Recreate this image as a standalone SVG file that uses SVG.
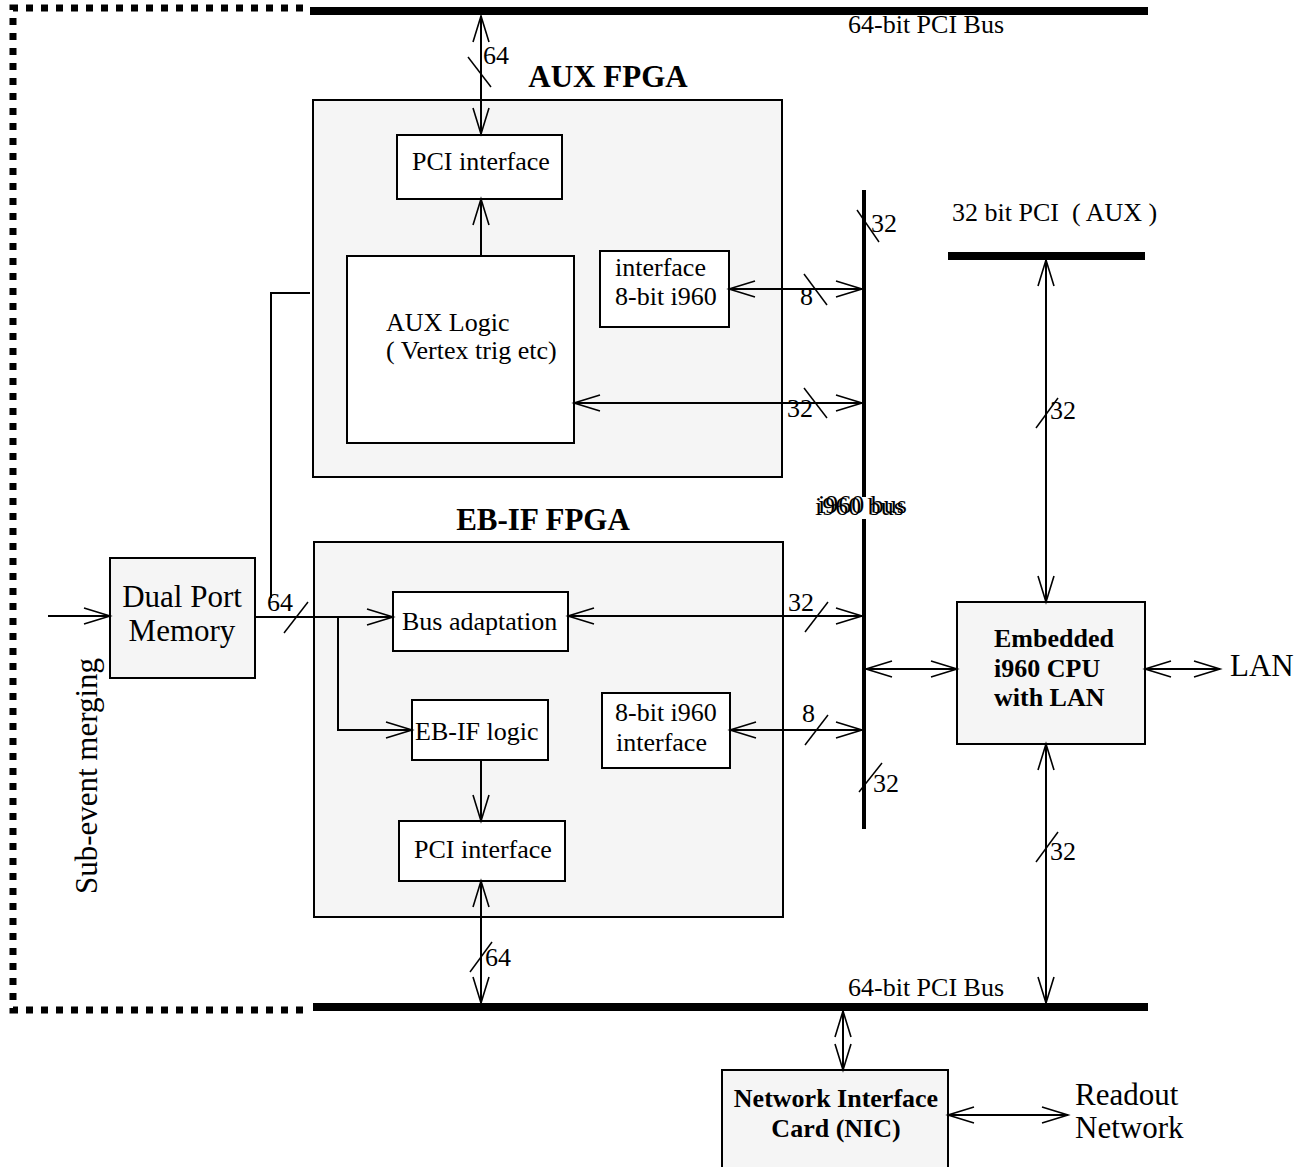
<svg xmlns="http://www.w3.org/2000/svg" width="1315" height="1167" viewBox="0 0 1315 1167">
<defs>
<marker id="ah" markerUnits="userSpaceOnUse" markerWidth="30" markerHeight="20" viewBox="0 0 30 20" refX="27" refY="9" orient="auto-start-reverse" overflow="visible">
<path d="M1,1 L27,9 L1,17" fill="none" stroke="#000" stroke-width="1.6"/>
</marker>
<style>
.t{font-family:"Liberation Serif","Times New Roman",serif;font-size:26px;fill:#000}
.b{font-weight:bold}
.big{font-size:31px}
.box{fill:#fff;stroke:#000;stroke-width:2}
.gbox{fill:#f5f5f5;stroke:#000;stroke-width:2}
.ln{stroke:#000;stroke-width:2;fill:none}
.a1{stroke:#000;stroke-width:2;fill:none;marker-end:url(#ah)}
.a2{stroke:#000;stroke-width:2;fill:none;marker-end:url(#ah);marker-start:url(#ah)}
.sl{stroke:#000;stroke-width:1.5}
.bus{stroke:#000;stroke-width:8}
.dash{stroke:#000;stroke-width:7;stroke-dasharray:7 8;fill:none}
</style>
</defs>
<rect width="1315" height="1167" fill="#fff"/>

<g id="border">
<path class="dash" d="M303,8 H13 V1010 H308"/>
</g>

<g id="buses">
<line class="bus" x1="310" y1="11" x2="1148" y2="11"/>
<text class="t" x="848" y="33">64-bit PCI Bus</text>
<line class="bus" x1="313" y1="1007" x2="1148" y2="1007"/>
<text class="t" x="848" y="996">64-bit PCI Bus</text>
<line class="bus" x1="948" y1="256" x2="1145" y2="256"/>
<text class="t" x="952" y="221" style="white-space:pre">32 bit PCI  ( AUX )</text>
<line x1="864" y1="190" x2="864" y2="497" stroke="#000" stroke-width="4"/>
<line x1="864" y1="519" x2="864" y2="829" stroke="#000" stroke-width="4"/>
<text class="t" x="815" y="515">i960 bus</text>
<text class="t" x="818" y="513">i960 bus</text>
</g>

<g id="aux-fpga">
<rect class="gbox" x="313" y="100" width="469" height="377"/>
<text class="t b big" x="608" y="87" text-anchor="middle">AUX FPGA</text>
</g>
<g id="aux-pci">
<rect class="box" x="397" y="135" width="165" height="64"/>
<text class="t" x="412" y="170">PCI interface</text>
</g>
<g id="aux-logic">
<rect class="box" x="347" y="256" width="227" height="187"/>
<text class="t" x="386" y="331">AUX Logic</text>
<text class="t" x="386" y="359">( Vertex trig etc)</text>
</g>
<g id="aux-i960if">
<rect class="box" x="600" y="251" width="129" height="76"/>
<text class="t" x="615" y="276">interface</text>
<text class="t" x="615" y="305">8-bit i960</text>
</g>

<g id="ebif-fpga">
<rect class="gbox" x="314" y="542" width="469" height="375"/>
<text class="t b big" x="543" y="530" text-anchor="middle">EB-IF FPGA</text>
</g>
<g id="bus-adapt">
<rect class="box" x="393" y="592" width="175" height="59"/>
<text class="t" x="402" y="630">Bus adaptation</text>
</g>
<g id="ebif-logic">
<rect class="box" x="412" y="700" width="136" height="60"/>
<text class="t" x="415" y="740">EB-IF logic</text>
</g>
<g id="eb-i960if">
<rect class="box" x="602" y="693" width="128" height="75"/>
<text class="t" x="615" y="721">8-bit i960</text>
<text class="t" x="616" y="751">interface</text>
</g>
<g id="eb-pci">
<rect class="box" x="399" y="821" width="166" height="60"/>
<text class="t" x="414" y="858">PCI interface</text>
</g>

<g id="dpm">
<rect class="gbox" x="110" y="558" width="145" height="120"/>
<text class="t big" x="182" y="607" text-anchor="middle">Dual Port</text>
<text class="t big" x="182" y="641" text-anchor="middle">Memory</text>
</g>

<g id="cpu">
<rect class="gbox" x="957" y="602" width="188" height="142"/>
<text class="t b" x="994" y="647">Embedded</text>
<text class="t b" x="994" y="677">i960 CPU</text>
<text class="t b" x="994" y="706">with LAN</text>
</g>

<g id="nic">
<rect class="gbox" x="722" y="1070" width="226" height="105"/>
<text class="t b" x="836" y="1107" text-anchor="middle">Network Interface</text>
<text class="t b" x="836" y="1137" text-anchor="middle">Card (NIC)</text>
</g>

<g id="labels">
<text class="t big" x="1230" y="676">LAN</text>
<text class="t big" x="1075" y="1105">Readout</text>
<text class="t big" x="1075" y="1138">Network</text>
<text class="t big" transform="translate(97,776) rotate(-90)" text-anchor="middle">Sub-event merging</text>
</g>

<g id="connectors">
<path class="a2" d="M481,16 V134"/>
<path class="a1" d="M481,256 V199"/>
<path class="a2" d="M729,289 H862"/>
<path class="a2" d="M574,403 H862"/>
<path class="ln" d="M310,293 H271 V598"/>
<path class="a1" d="M48,616 H110"/>
<path class="a1" d="M255,617 H393"/>
<path class="a1" d="M338,617 V730 H412"/>
<path class="a1" d="M481,760 V821"/>
<path class="a2" d="M568,616 H862"/>
<path class="a2" d="M730,730 H862"/>
<path class="a2" d="M481,881 V1003"/>
<path class="a2" d="M866,669 H957"/>
<path class="a2" d="M1145,669 H1220"/>
<path class="a2" d="M1046,260 V602"/>
<path class="a2" d="M1046,744 V1003"/>
<path class="a2" d="M843,1011 V1070"/>
<path class="a2" d="M948,1115 H1068"/>

<line class="sl" x1="468" y1="57" x2="491" y2="87"/>
<text class="t" x="483" y="64">64</text>
<line class="sl" x1="804" y1="274" x2="827" y2="305"/>
<text class="t" x="800" y="305">8</text>
<line class="sl" x1="804" y1="388" x2="827" y2="418"/>
<text class="t" x="787" y="417">32</text>
<line class="sl" x1="857" y1="210" x2="879" y2="242"/>
<text class="t" x="871" y="232">32</text>
<line class="sl" x1="284" y1="633" x2="308" y2="602"/>
<text class="t" x="267" y="611">64</text>
<line class="sl" x1="805" y1="632" x2="828" y2="602"/>
<text class="t" x="788" y="611">32</text>
<line class="sl" x1="805" y1="745" x2="828" y2="715"/>
<text class="t" x="802" y="722">8</text>
<line class="sl" x1="859" y1="792" x2="882" y2="763"/>
<text class="t" x="873" y="792">32</text>
<line class="sl" x1="470" y1="972" x2="492" y2="942"/>
<text class="t" x="485" y="966">64</text>
<line class="sl" x1="1036" y1="428" x2="1058" y2="398"/>
<text class="t" x="1050" y="419">32</text>
<line class="sl" x1="1036" y1="862" x2="1058" y2="832"/>
<text class="t" x="1050" y="860">32</text>
</g>
</svg>
